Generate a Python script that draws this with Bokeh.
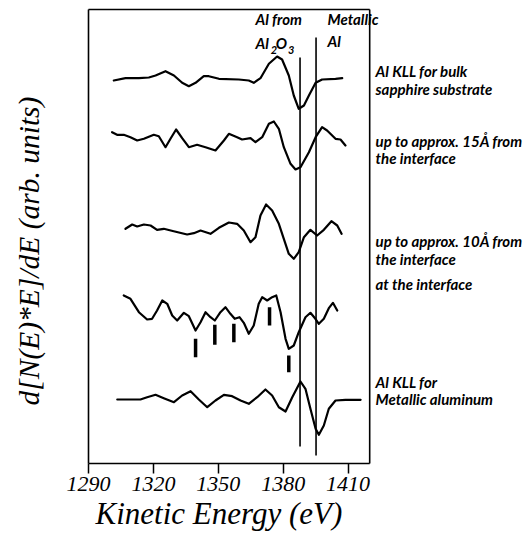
import math
from bokeh.plotting import figure
from bokeh.models import Range1d, FixedTicker, Label, Title
from bokeh.embed import file_html
from bokeh.resources import INLINE

# ---- data (kinetic energy in eV, signal in arb. units incl. vertical offset) ----
e_bulk = [1301.7, 1307.1, 1313.3, 1317.9, 1321.0, 1325.6, 1329.5, 1333.3, 1336.4, 1339.5,
          1343.3, 1345.6, 1350.3, 1359.5, 1364.1, 1366.4, 1369.5, 1373.4, 1377.2, 1379.5,
          1382.6, 1384.9, 1387.2, 1389.6, 1391.9, 1395.0, 1398.0, 1404.2, 1407.3]
s_bulk = [383, 385.3, 385.3, 386, 388, 392.3, 388, 380.7, 377.3, 380.7,
          387.3, 387.3, 384.7, 384, 383, 380.7, 385.3, 399.7, 407, 404,
          388, 368, 354.7, 358, 368, 380.7, 384, 384.7, 385.3]

e_15 = [1300.9, 1303.2, 1306.3, 1309.4, 1312.5, 1315.6, 1320.2, 1322.5, 1325.6, 1327.9,
        1330.5, 1333.3, 1336.4, 1340.2, 1344.1, 1348.7, 1352.6, 1354.9, 1358.7, 1361.0,
        1364.9, 1367.2, 1370.3, 1373.4, 1375.7, 1378.0, 1380.3, 1383.4, 1385.7, 1388.0,
        1391.9, 1395.0, 1398.0, 1400.3, 1404.2, 1406.5, 1408.8]
s_15 = [331.3, 328.7, 328.7, 326.3, 323, 324.7, 328.7, 327.3, 316.3, 324.7,
        334, 325.3, 316.3, 318.7, 316.3, 313, 323, 329.7, 326.3, 324,
        325.3, 321.3, 326.3, 339.7, 342, 334.7, 316.3, 299.7, 294, 296.3,
        311.3, 326.3, 336.3, 333, 324.7, 324, 318]

e_10 = [1307.1, 1310.2, 1312.5, 1315.6, 1318.7, 1321.7, 1324.8, 1329.4, 1335.6, 1338.7,
        1341.8, 1346.4, 1350.3, 1354.9, 1358.7, 1361.8, 1364.9, 1367.2, 1369.5, 1372.1,
        1374.9, 1378.0, 1380.3, 1382.6, 1384.9, 1387.2, 1389.6, 1392.6, 1395.7, 1398.8,
        1402.3, 1405.0, 1407.0]
s_10 = [234.7, 239, 237, 239, 238, 233.7, 234.7, 232.3, 229, 230.3,
        233, 229.7, 235.7, 241, 239.7, 233, 221.3, 226.3, 248, 259,
        253, 239.7, 224.7, 209.7, 204.7, 211.3, 226.3, 233.7, 228, 233.7,
        242.3, 238, 229.7]

e_int = [1306.3, 1309.4, 1313.3, 1317.1, 1319.4, 1321.7, 1324.1, 1326.4, 1328.7, 1331.0,
         1334.1, 1336.4, 1339.5, 1341.8, 1344.1, 1346.4, 1348.4, 1351.0, 1353.3, 1355.6,
         1357.6, 1359.8, 1361.8, 1364.1, 1366.4, 1368.7, 1370.3, 1372.6, 1374.9, 1376.8,
         1378.8, 1381.1, 1382.6, 1384.9, 1387.2, 1390.3, 1392.6, 1394.9, 1396.5, 1398.8,
         1401.1, 1403.0, 1405.0]
s_int = [168, 164.7, 151.3, 144, 144.7, 153, 163, 159.7, 148, 143,
         150.7, 147.3, 133, 141.3, 151.3, 146.3, 143, 151.3, 156.3, 149.7,
         144.7, 146.3, 140.7, 129.7, 138, 159.7, 166.3, 163, 166.3, 168,
         151.3, 124.7, 114.7, 118, 131.3, 146.3, 150.7, 144.7, 139.7, 144.7,
         155.3, 160.7, 153]

# feature markers under the interface spectrum
mark_e = [1339.5, 1348.4, 1357.2, 1373.7, 1382.6]
mark_lo = [106.3, 118.7, 121.3, 138.0, 91.3]
mark_hi = [124.7, 138.7, 139.7, 156.3, 108.0]

e_met = [1303.3, 1308.6, 1314.0, 1317.1, 1321.0, 1324.8, 1329.5, 1333.3, 1337.2, 1341.0,
         1344.9, 1348.7, 1352.6, 1356.4, 1360.3, 1364.1, 1368.0, 1371.8, 1374.9, 1378.0,
         1381.1, 1384.2, 1388.0, 1390.3, 1392.6, 1395.0, 1396.5, 1398.8, 1401.1, 1404.2,
         1408.8, 1415.8]
s_met = [64, 64, 64, 66.3, 68.7, 65.3, 61.3, 68, 72.3, 64,
         56.3, 63, 68.7, 67.3, 63, 59.7, 66.3, 74, 68, 56.3,
         52, 66.3, 82, 74.7, 54.7, 34.7, 28.7, 38, 54.7, 63,
         63.7, 63.7]

# reference lines: Al from Al2O3 and metallic Al
ref_e = [1387.8, 1395.2]
ref_lo = [17, 8]
ref_hi = [406, 426]

x_ticks = [1290, 1320, 1350, 1380, 1410]
x_box = [1290, 1420]
y_box = [0, 454]

curve_labels = [
    ("Al KLL for bulk", 393), ("sapphire substrate", 375),
    (" up to approx. 15Å from", 323), ("the interface", 306),
    (" up to approx. 10Å from", 223), ("the interface", 205),
    (" at  the interface", 180),
    ("Al KLL for", 82), ("Metallic aluminum", 65),
]

# ---- figure ----
px_per_ev = 2.163
p = figure(width=528, height=538, output_backend="svg", toolbar_location=None,
           x_range=Range1d(1290 - 88 / px_per_ev, 1290 + 440 / px_per_ev),
           y_range=Range1d(-2, 463),
           min_border_left=0, min_border_right=0, min_border_top=0, min_border_bottom=73)
p.xgrid.visible = False
p.ygrid.visible = False
p.yaxis.visible = False
p.outline_line_color = None
p.background_fill_color = "white"
p.border_fill_color = "white"

ax = p.xaxis[0]
ax.ticker = FixedTicker(ticks=x_ticks)
ax.axis_line_color = None
ax.major_tick_out = 8
ax.major_tick_in = 2
ax.major_tick_line_width = 1.5
ax.minor_tick_line_color = None
ax.major_label_text_font = "Liberation Serif"
ax.major_label_text_font_style = "italic"
ax.major_label_text_font_size = "22px"
ax.major_label_text_color = "black"
ax.major_label_standoff = 3

# frame box
p.segment(x0=[x_box[0], x_box[1], x_box[0], x_box[0]],
          y0=[y_box[0], y_box[0], y_box[0], y_box[1]],
          x1=[x_box[0], x_box[1], x_box[1], x_box[1]],
          y1=[y_box[1], y_box[1], y_box[0], y_box[1]],
          line_color="black", line_width=1.6)

for e, s in [(e_bulk, s_bulk), (e_15, s_15), (e_10, s_10), (e_int, s_int), (e_met, s_met)]:
    p.line(e, s, line_color="black", line_width=2.2, line_join="round", line_cap="round")

p.segment(x0=ref_e, y0=ref_lo, x1=ref_e, y1=ref_hi, line_color="black", line_width=1.6)
p.segment(x0=mark_e, y0=mark_lo, x1=mark_e, y1=mark_hi, line_color="black", line_width=3.5)

sans = "Lato"
def lab(txt, x, y, size="15px", font=sans, style="bold italic", **kw):
    p.add_layout(Label(x=x, y=y, text=txt, text_font=font, text_font_style=style,
                       text_font_size=size, text_color="black", text_baseline="middle", **kw))

for txt, y in curve_labels:
    lab(txt, 1422.7, y)

lab("Al from", 1367.2, 445)
lab("Al", 1367.2, 421)
lab("2", 1374.3, 414, size="11px")
lab("O", 1376.6, 421)
lab("3", 1382.2, 414, size="11px")
lab("Metallic", 1400.5, 445)
lab("Al", 1400.5, 423)

# y axis title (vertical, reading upwards)
lab("d[N(E)*E]/dE (arb. units)", 1262.3, 58, size="29.5px", font="Liberation Serif",
    style="italic", angle=math.pi / 2, text_align="left")

# x axis title
p.add_layout(Title(text="Kinetic Energy (eV)", align="left", offset=95, standoff=0,
                   text_font="Liberation Serif", text_font_style="italic",
                   text_font_size="31px", text_color="black"), "below")

open("out.html", "w").write(file_html(p, INLINE))
